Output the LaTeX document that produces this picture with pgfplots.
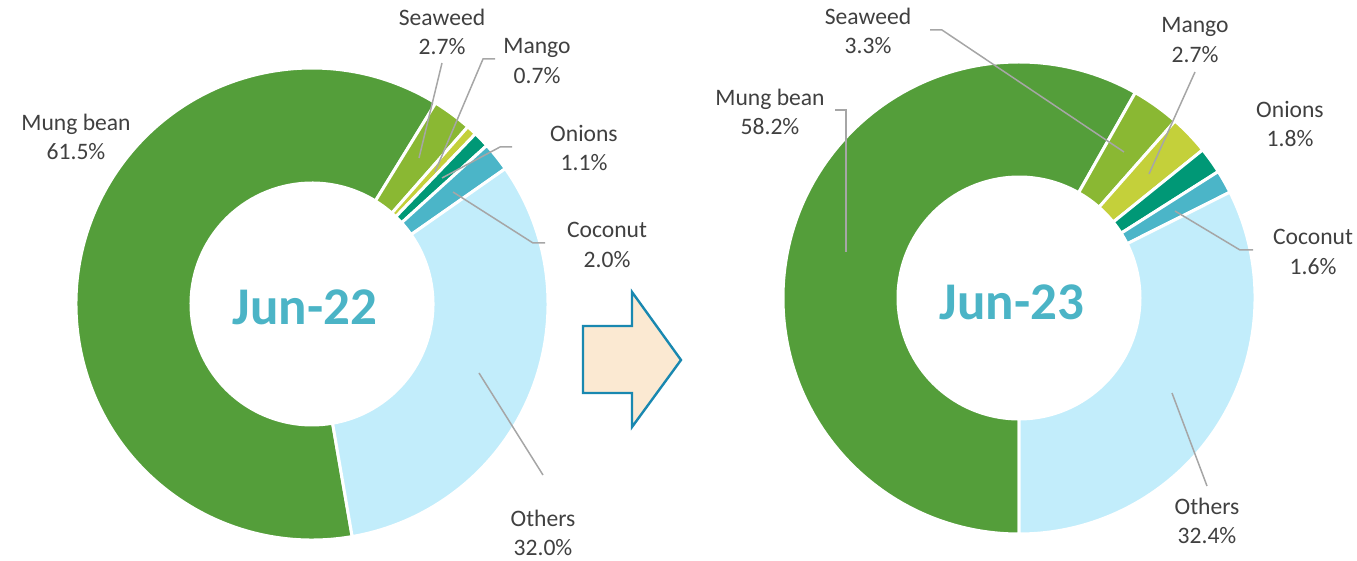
\documentclass[border=0pt]{standalone}
\usepackage{pgfplots}
\pgfplotsset{compat=1.18}
\usepackage{pgfplotstable}
\usepackage{fontspec}
\setmainfont{Carlito}
\definecolor{cMung}{RGB}{84,158,58}
\definecolor{cSea}{RGB}{138,184,51}
\definecolor{cMango}{RGB}{196,208,58}
\definecolor{cOnion}{RGB}{0,152,118}
\definecolor{cCoco}{RGB}{75,181,200}
\definecolor{cOther}{RGB}{194,237,251}
\definecolor{cText}{RGB}{64,64,64}
\definecolor{cLead}{RGB}{166,166,166}
\definecolor{cCenter}{RGB}{75,180,198}
\definecolor{cArrowF}{RGB}{251,233,210}
\definecolor{cArrowD}{RGB}{25,136,176}

% Jun-22 shares (%), clockwise from the start angle
\pgfplotstableread{
item pct col
Mung 61.5 cMung
Seaweed 2.7 cSea
Mango 0.7 cMango
Onions 1.1 cOnion
Coconut 2.0 cCoco
Others 32.0 cOther
}\tabA
% Jun-23 shares (%)
\pgfplotstableread{
item pct col
Mung 58.2 cMung
Seaweed 3.3 cSea
Mango 2.7 cMango
Onions 1.8 cOnion
Coconut 1.6 cCoco
Others 32.4 cOther
}\tabB

\tikzset{
  lab/.style={text=cText, align=center, font=\fontsize{11.8}{14.8}\selectfont, inner sep=0pt},
  ctr/.style={text=cCenter, font=\fontsize{26.5}{30}\selectfont\bfseries, anchor=base, inner sep=0pt},
}

\def\Ro{118pt}
\def\Ri{60.5pt}
\newcommand{\donut}[4]{%
  \pgfplotstablegetrowsof{#1}%
  \pgfmathtruncatemacro{\nrows}{\pgfplotsretval-1}%
  \xdef\cumang{#4}%
  \foreach \i in {0,...,\nrows}{%
    \pgfplotstablegetelem{\i}{pct}\of{#1}\let\myp\pgfplotsretval
    \pgfplotstablegetelem{\i}{col}\of{#1}\let\mycol\pgfplotsretval
    \pgfmathsetmacro{\aA}{90-\cumang}%
    \pgfmathsetmacro{\aB}{90-\cumang-3.6*\myp}%
    \fill[fill=\mycol, draw=white, line width=1.5pt]
      ([shift={(\aA:\Ro)}]axis cs:#2,#3) arc[start angle=\aA, end angle=\aB, radius=\Ro]
      -- ([shift={(\aB:\Ri)}]axis cs:#2,#3) arc[start angle=\aB, end angle=\aA, radius=\Ri]
      -- cycle;
    \pgfmathsetmacro{\tmp}{\cumang+3.6*\myp}\xdef\cumang{\tmp}%
  }%
}

\begin{document}
\begin{tikzpicture}
\begin{axis}[
  width=678.5pt, height=280.5pt, scale only axis,
  xmin=0, xmax=1357, ymin=0, ymax=561, y dir=reverse,
  axis lines=none, clip=false,
]
\path (axis cs:0,0) rectangle (axis cs:1357,561);
\pgfplotsextra{\donut{\tabA}{312}{304}{170.2}\donut{\tabB}{1019}{298}{180}}

% leader lines, Jun-22
\addplot[cLead, line width=0.75pt, no marks] coordinates {(442,63) (419,158)};
\addplot[cLead, line width=0.75pt, no marks] coordinates {(495,59) (483,59) (435,172)};
\addplot[cLead, line width=0.75pt, no marks] coordinates {(512,147) (500,147) (442,178)};
\addplot[cLead, line width=0.75pt, no marks] coordinates {(545,243) (533,243) (453,192)};
\addplot[cLead, line width=0.75pt, no marks] coordinates {(479,373) (543,475)};
% leader lines, Jun-23
\addplot[cLead, line width=0.75pt, no marks] coordinates {(835,110) (846,110) (846,252)};
\addplot[cLead, line width=0.75pt, no marks] coordinates {(930,30) (942,30) (1124,152)};
\addplot[cLead, line width=0.75pt, no marks] coordinates {(1195,72) (1149,174)};
\addplot[cLead, line width=0.75pt, no marks] coordinates {(1253,250) (1240,250) (1175,211)};
\addplot[cLead, line width=0.75pt, no marks] coordinates {(1172,393) (1207,486)};

% arrow
\addplot[fill=cArrowF, draw=cArrowD, line width=1.2pt, no marks] coordinates {(583,326) (632,326) (632,292) (681,360) (632,427) (632,393) (583,393)} -- cycle;

% labels Jun-22
\node[lab] at (axis cs:76,137) {Mung bean\\61.5\%};
\node[lab] at (axis cs:442,32) {Seaweed\\2.7\%};
\node[lab] at (axis cs:537,61) {Mango\\0.7\%};
\node[lab] at (axis cs:584,148) {Onions\\1.1\%};
\node[lab] at (axis cs:607,245) {Coconut\\2.0\%};
\node[lab] at (axis cs:543,533) {Others\\32.0\%};
% labels Jun-23
\node[lab] at (axis cs:770,112) {Mung bean\\58.2\%};
\node[lab] at (axis cs:868,31) {Seaweed\\3.3\%};
\node[lab] at (axis cs:1195,40) {Mango\\2.7\%};
\node[lab] at (axis cs:1290,124) {Onions\\1.8\%};
\node[lab] at (axis cs:1313,252) {Coconut\\1.6\%};
\node[lab] at (axis cs:1207,521) {Others\\32.4\%};

\node[ctr] at (axis cs:305,325) {Jun-22};
\node[ctr] at (axis cs:1012,320) {Jun-23};
\end{axis}
\end{tikzpicture}
\end{document}
